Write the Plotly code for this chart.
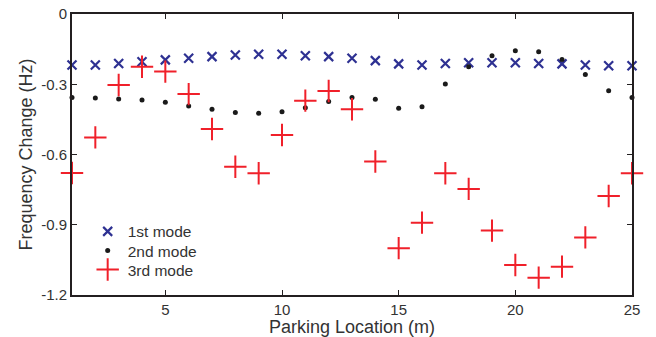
import plotly.graph_objects as go

locations = list(range(1, 26))
mode1 = [-0.218, -0.218, -0.211, -0.204, -0.196, -0.189, -0.182, -0.175, -0.172, -0.172,
         -0.178, -0.182, -0.189, -0.199, -0.213, -0.218, -0.211, -0.208, -0.208, -0.208,
         -0.211, -0.213, -0.218, -0.221, -0.221]
mode2 = [-0.357, -0.359, -0.363, -0.367, -0.377, -0.393, -0.407, -0.421, -0.424, -0.417,
         -0.400, -0.374, -0.357, -0.364, -0.403, -0.396, -0.299, -0.225, -0.178, -0.157,
         -0.161, -0.194, -0.258, -0.328, -0.357]
mode3 = [-0.679, -0.527, -0.303, -0.225, -0.246, -0.342, -0.491, -0.652, -0.680, -0.517,
         -0.370, -0.329, -0.407, -0.630, -1.000, -0.891, -0.680, -0.747, -0.925, -1.072,
         -1.126, -1.079, -0.954, -0.777, -0.680]

x_ticks = [5, 10, 15, 20, 25]
y_ticks = [0, -0.3, -0.6, -0.9, -1.2]
y_labels = ["0", "-0.3", "-0.6", "-0.9", "-1.2"]

FONT = "Liberation Sans, Arial, sans-serif"
INK = "#231F20"

fig = go.Figure()
fig.add_trace(go.Scatter(x=locations, y=mode1, mode="markers", name="1st mode",
                         cliponaxis=False, legend="legend",
                         marker=dict(symbol="x-thin", size=9, color="#2E3192",
                                     line=dict(width=2.2, color="#2E3192"))))
fig.add_trace(go.Scatter(x=locations, y=mode2, mode="markers", name="2nd mode",
                         cliponaxis=False, legend="legend2",
                         marker=dict(symbol="circle", size=5, color="#1a1a1a")))
fig.add_trace(go.Scatter(x=locations, y=mode3, mode="markers", name="3rd mode",
                         cliponaxis=False, legend="legend3",
                         marker=dict(symbol="cross-thin", size=16, color="#F0202A",
                                     line=dict(width=2, color="#F0202A"))))

axis_common = dict(showgrid=False, zeroline=False, showline=True, linecolor=INK,
                   linewidth=2, mirror="ticks", ticks="inside", ticklen=5,
                   tickwidth=1, tickcolor=INK, automargin=False,
                   tickfont=dict(family=FONT, size=15, color="#333333"))

legend_common = dict(xanchor="left", yanchor="middle", bgcolor="rgba(0,0,0,0)",
                     borderwidth=0, font=dict(family=FONT, size=15.5, color="#333333"),
                     itemwidth=30)

fig.update_layout(
    template="none",
    width=656, height=337,
    margin=dict(l=72, r=24, t=14, b=42),
    paper_bgcolor="white", plot_bgcolor="white",
    font=dict(family=FONT, color="#333333"),
    xaxis=dict(range=[1, 25], tickvals=x_ticks,
               title=dict(text="Parking Location (m)", font=dict(size=18), standoff=0),
               **axis_common),
    yaxis=dict(range=[-1.2, 0], tickvals=y_ticks, ticktext=y_labels,
               title=dict(text="Frequency Change (Hz)", font=dict(size=18), standoff=4),
               **axis_common),
    legend=dict(x=0.028, y=0.225, **legend_common),
    legend2=dict(x=0.028, y=0.157, **legend_common),
    legend3=dict(x=0.028, y=0.089, **legend_common),
    showlegend=True,
)

fig.write_html("out.html", config={"displayModeBar": False},
               post_script="document.body.style.margin='0';")
